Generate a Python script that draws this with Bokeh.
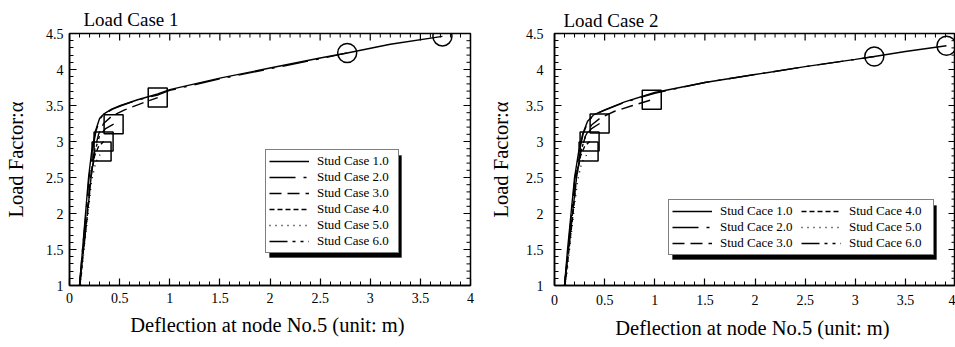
import numpy as np
from bokeh.plotting import figure
from bokeh.models import (LinearAxis, SingleIntervalTicker, NumeralTickFormatter,
                          Legend, LegendItem, Range1d, BoxAnnotation)
from bokeh.layouts import row
from bokeh.embed import file_html
from bokeh.resources import INLINE

FONT = "Liberation Serif"

# ---------------- data ----------------
titles = ["Load Case 1", "Load Case 2"]
x_title = "Deflection at node No.5  (unit: m)"
y_title = "Load Factor:\u03b1"
case_labels_1 = ["Stud Case 1.0", "Stud Case 2.0", "Stud Case 3.0",
                 "Stud Case 4.0", "Stud Case 5.0", "Stud Case 6.0"]
case_labels_2 = ["Stud Cace 1.0", "Stud Cace 2.0", "Stud Cace 3.0",
                 "Stud Cace 4.0", "Stud Cace 5.0", "Stud Cace 6.0"]

# Load case 1
lc1_c1_x = [0.10, 0.13, 0.16, 0.19, 0.22, 0.26, 0.30, 0.34, 0.42, 0.51, 0.68, 0.88, 1.0, 1.5, 2.0, 2.5, 2.77, 3.2, 3.72]
lc1_c1_y = [1.0, 1.5, 2.0, 2.5, 2.85, 3.15, 3.32, 3.38, 3.45, 3.50, 3.58, 3.66, 3.72, 3.88, 4.02, 4.16, 4.23, 4.35, 4.46]
lc1_c2_x = [0.10, 0.13, 0.165, 0.195, 0.225, 0.265, 0.305, 0.345, 0.43, 0.52, 0.69, 0.89, 1.0, 1.5, 2.0, 2.5, 2.77]
lc1_c2_y = [1.0, 1.5, 2.0, 2.5, 2.85, 3.15, 3.32, 3.38, 3.45, 3.50, 3.58, 3.65, 3.71, 3.87, 4.01, 4.15, 4.23]
lc1_c3_x = [0.10, 0.14, 0.175, 0.21, 0.245, 0.29, 0.34, 0.42, 0.55, 0.70, 0.88]
lc1_c3_y = [1.0, 1.5, 2.0, 2.5, 2.85, 3.10, 3.25, 3.35, 3.44, 3.52, 3.61]
lc1_c4_x = [0.105, 0.14, 0.18, 0.215, 0.25, 0.29, 0.34]
lc1_c4_y = [1.0, 1.5, 2.0, 2.5, 2.80, 2.93, 3.00]
lc1_c5_x = [0.11, 0.145, 0.185, 0.22, 0.26, 0.32]
lc1_c5_y = [1.0, 1.5, 2.0, 2.45, 2.70, 2.86]
lc1_c6_x = [0.10, 0.14, 0.18, 0.215, 0.25, 0.30, 0.36, 0.44]
lc1_c6_y = [1.0, 1.5, 2.0, 2.5, 2.85, 3.08, 3.18, 3.24]

# Load case 2
lc2_c1_x = [0.10, 0.13, 0.165, 0.20, 0.24, 0.28, 0.33, 0.39, 0.5, 0.7, 1.0, 1.5, 2.0, 2.5, 3.0, 3.19, 3.5, 3.91]
lc2_c1_y = [1.0, 1.5, 2.0, 2.5, 2.85, 3.10, 3.28, 3.37, 3.44, 3.55, 3.68, 3.82, 3.93, 4.04, 4.14, 4.18, 4.25, 4.33]
lc2_c2_x = [0.10, 0.135, 0.17, 0.205, 0.245, 0.285, 0.335, 0.395, 0.51, 0.71, 1.0, 1.5, 2.0, 2.5, 3.0, 3.19]
lc2_c2_y = [1.0, 1.5, 2.0, 2.5, 2.85, 3.10, 3.28, 3.37, 3.44, 3.55, 3.67, 3.82, 3.93, 4.04, 4.14, 4.18]
lc2_c3_x = [0.10, 0.14, 0.18, 0.215, 0.26, 0.31, 0.37, 0.46, 0.60, 0.78, 0.97]
lc2_c3_y = [1.0, 1.5, 2.0, 2.5, 2.85, 3.08, 3.23, 3.33, 3.42, 3.50, 3.58]
lc2_c4_x = [0.105, 0.145, 0.185, 0.22, 0.26, 0.30, 0.35]
lc2_c4_y = [1.0, 1.5, 2.0, 2.5, 2.80, 2.93, 3.00]
lc2_c5_x = [0.11, 0.15, 0.19, 0.23, 0.27, 0.34]
lc2_c5_y = [1.0, 1.5, 2.0, 2.45, 2.70, 2.86]
lc2_c6_x = [0.10, 0.14, 0.18, 0.22, 0.26, 0.31, 0.37, 0.45]
lc2_c6_y = [1.0, 1.5, 2.0, 2.5, 2.85, 3.08, 3.18, 3.25]

x_major_ticks = [0, 0.5, 1, 1.5, 2, 2.5, 3, 3.5, 4]
y_major_ticks = [1, 1.5, 2, 2.5, 3, 3.5, 4, 4.5]

end_marker = ["circle", "circle", "square", "square", "square", "square"]
dashes = ["solid", "26 8 3 8", "12 6", "5 3", "1 5", "18 5 3 5 3 5"]

lc1 = [(lc1_c1_x, lc1_c1_y), (lc1_c2_x, lc1_c2_y), (lc1_c3_x, lc1_c3_y),
       (lc1_c4_x, lc1_c4_y), (lc1_c5_x, lc1_c5_y), (lc1_c6_x, lc1_c6_y)]
lc2 = [(lc2_c1_x, lc2_c1_y), (lc2_c2_x, lc2_c2_y), (lc2_c3_x, lc2_c3_y),
       (lc2_c4_x, lc2_c4_y), (lc2_c5_x, lc2_c5_y), (lc2_c6_x, lc2_c6_y)]


def minor_from(major):
    out = []
    for a, b in zip(major[:-1], major[1:]):
        for k in range(1, 5):
            out.append(a + (b - a) * k / 5.0)
    return out


def style_axis(ax, label_standoff, axlab_standoff):
    ax.ticker = SingleIntervalTicker(interval=0.5, num_minor_ticks=5)
    ax.formatter = NumeralTickFormatter(format="0.[0]")
    ax.axis_line_color = "black"
    ax.axis_line_width = 1.5
    ax.major_tick_in = 7
    ax.major_tick_out = 0
    ax.minor_tick_in = 4
    ax.minor_tick_out = 0
    ax.major_tick_line_color = "black"
    ax.minor_tick_line_color = "black"
    ax.major_tick_line_width = 1.2
    ax.minor_tick_line_width = 1.0
    ax.major_label_text_font = FONT
    ax.major_label_text_color = "black"
    ax.major_label_text_font_size = "14px"
    ax.major_label_standoff = label_standoff
    ax.axis_label_text_font = FONT
    ax.axis_label_text_font_size = "20.5px"
    ax.axis_label_text_font_style = "normal"
    ax.axis_label_text_color = "black"
    ax.axis_label_standoff = axlab_standoff


def make(title, data, labels, width, bl, br, bt, bb, ylab_standoff, ytick_standoff,
         xtick_standoff, xlab_standoff, title_offset, title_standoff, legend_loc, ncols):
    p = figure(width=width, height=347, output_backend="svg", toolbar_location=None,
               x_range=Range1d(0, 4), y_range=Range1d(1, 4.5),
               min_border_left=bl, min_border_right=br, min_border_top=bt,
               min_border_bottom=bb, x_axis_type=None, y_axis_type=None)
    p.title.text = title
    p.title.text_font = FONT
    p.title.text_font_size = "19px"
    p.title.text_font_style = "normal"
    p.title.text_color = "black"
    p.title.offset = title_offset
    p.title.standoff = title_standoff
    p.grid.visible = False
    p.outline_line_color = "black"
    p.outline_line_width = 1.5
    p.background_fill_color = "white"
    p.border_fill_color = "white"

    xb = LinearAxis(axis_label=x_title)
    style_axis(xb, xtick_standoff, xlab_standoff)
    yl = LinearAxis(axis_label=y_title)
    style_axis(yl, ytick_standoff, ylab_standoff)
    p.add_layout(xb, "below")
    p.add_layout(yl, "left")

    # inward ticks on top and right edges
    xmin = minor_from(x_major_ticks)
    ymin = minor_from(y_major_ticks)
    p.scatter(x_major_ticks, [4.5] * len(x_major_ticks), marker="dash", size=14,
              angle=np.pi / 2, line_color="black", line_width=1.2)
    p.scatter(xmin, [4.5] * len(xmin), marker="dash", size=8,
              angle=np.pi / 2, line_color="black", line_width=1.0)
    p.scatter([4] * len(y_major_ticks), y_major_ticks, marker="dash", size=14,
              line_color="black", line_width=1.2)
    p.scatter([4] * len(ymin), ymin, marker="dash", size=8,
              line_color="black", line_width=1.0)

    items = []
    for (xs, ys), lab, dsh, mk in zip(data, labels, dashes, end_marker):
        r = p.line(xs, ys, line_color="black", line_width=1.4, line_dash=dsh)
        p.scatter([xs[-1]], [ys[-1]], marker=mk, size=19, fill_color=None,
                  line_color="black", line_width=1.5)
        items.append((lab, r))

    pad, gw, lst, lh, sp = 3, 40, 8, 16, 0
    if ncols == 1:
        lw = 78
        W = 2 * pad + gw + lst + lw
        H = 2 * pad + 6 * lh + 5 * sp
    else:
        lw = 81
        W = 2 * pad + 2 * (gw + lst + lw) + sp
        H = 2 * pad + 3 * lh + 2 * sp

    lx, ly = legend_loc
    shadow = BoxAnnotation(left=lx + 4, right=lx + W + 4, bottom=ly - 4, top=ly + H - 4,
                           left_units="screen", right_units="screen",
                           bottom_units="screen", top_units="screen",
                           fill_color="black", fill_alpha=1.0, line_color="black",
                           level="annotation")
    p.add_layout(shadow)

    lg = Legend(items=[LegendItem(label=l, renderers=[r]) for l, r in items],
                location=legend_loc, margin=0, padding=pad, spacing=sp,
                glyph_width=gw, glyph_height=lh, label_height=lh, label_width=lw,
                label_standoff=lst, label_text_font=FONT,
                label_text_font_size="13px", label_text_color="black",
                label_text_line_height=1.0,
                border_line_color="black", border_line_width=1.5,
                background_fill_color="white", background_fill_alpha=1.0)
    if ncols > 1:
        lg.nrows = 3
    p.add_layout(lg, "center")
    return p


p1 = make(titles[0], lc1, case_labels_1, 480, 69, 10, 33, 58,
          16, 6, 7, 8, 14, 7, (196, 32), 1)
p2 = make(titles[1], lc2, case_labels_2, 475, 74, 0, 31, 62,
          11, 11, 9, 9, 9, 6, (114, 30), 2)

layout = row(p1, p2)
open("out.html", "w").write(file_html(layout, INLINE))
